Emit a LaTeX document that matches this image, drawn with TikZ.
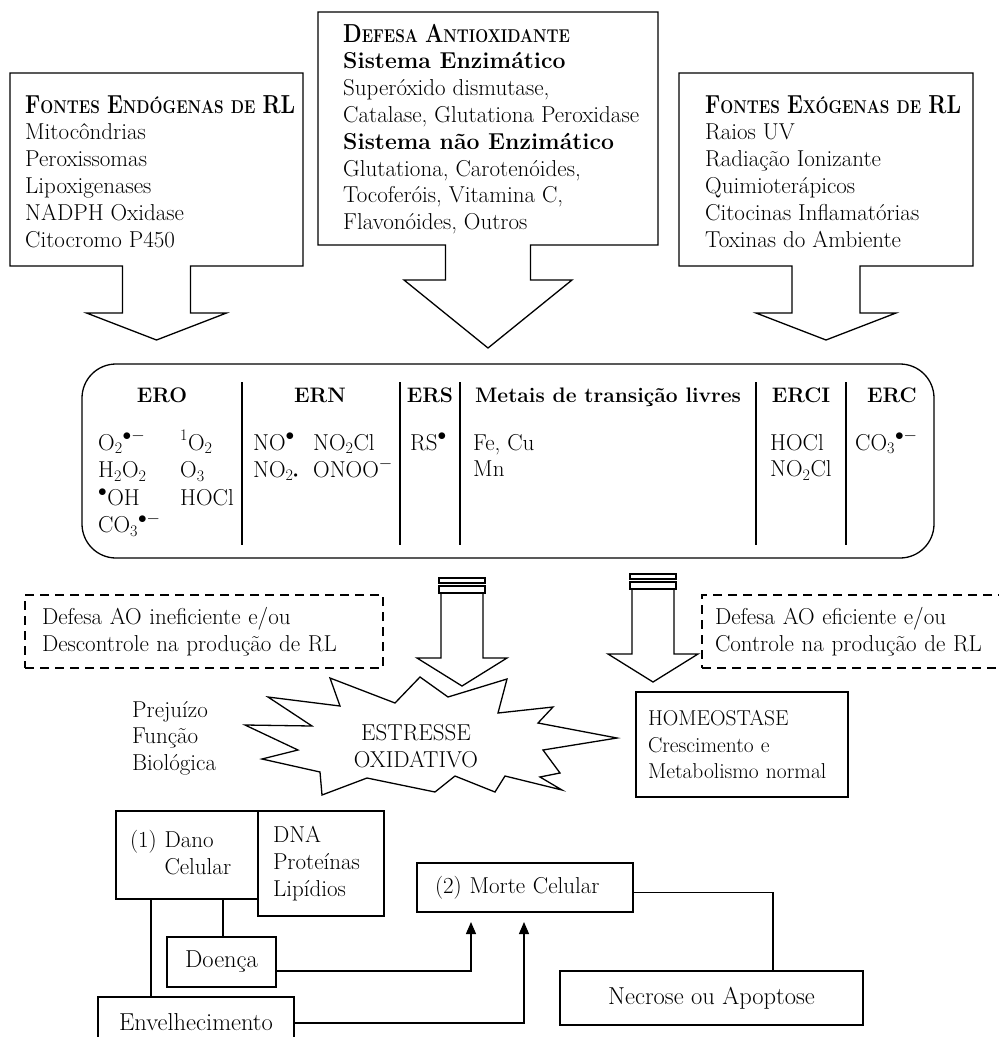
\documentclass[tikz,border=0pt]{standalone}
\usepackage{fontspec}
\usepackage{graphicx}
\usetikzlibrary{calc,arrows.meta}

\newcommand{\bodysize}{\fontsize{23}{26.8}\selectfont}
\newcommand{\headsize}{\fontsize{21}{26.8}\selectfont}
\newcommand{\fbig}[1]{{\fontsize{26}{26}\selectfont #1}}
\newcommand{\fsmall}[1]{{\fontsize{18.5}{18.5}\selectfont #1}}
\newcommand{\fsc}[2]{\fbig{#1}\fsmall{#2}}
\newcommand{\boxtitle}[1]{\scalebox{0.83}[1]{\textbf{#1}}}
\newcommand{\linestack}[1]{\begin{tabular}[t]{@{}l@{}}#1\end{tabular}}
\newcommand{\rad}{\textsuperscript{$\bullet$}}
\newcommand{\radan}{\textsuperscript{$\bullet-$}}
\newcommand{\chsub}[1]{\textsubscript{#1}}

% box with a hollow arrow below it
\newcommand{\callarrow}[5]{%
  \draw[outline] (#1.south west) -- (#1.north west) -- (#1.north east) -- (#1.south east)
    -- ($(#1.south)+(#2,0)$) -- ++(0,#3) -- ++(#4-#2,0) -- ++(-#4,#5) -- ++(-#4,-#5)
    -- ++(#4-#2,0) -- ++(0,-#3) -- cycle;}

% hollow arrow with two bars on top
\newcommand{\barredarrow}[2]{%
  \draw[outline] (#1-23,#2) rectangle (#1+23,#2+5);
  \draw[outline] (#1-23,#2+8) rectangle (#1+23,#2+15);
  \draw[outline] (#1-21,#2+15) -- (#1-21,#2+80) -- (#1-45,#2+80) -- (#1,#2+108)
    -- (#1+45,#2+80) -- (#1+21,#2+80) -- (#1+21,#2+15);}

\begin{document}
\begin{tikzpicture}[x=1pt,y=-1pt,
  outline/.style={line width=1.3pt, line join=miter},
  calloutbox/.style={rectangle, inner sep=0pt, outer sep=0pt},
  bodytext/.style={inner sep=0pt, font=\bodysize},
  headtext/.style={inner sep=0pt, font=\headsize},
  framebox/.style={draw, line width=1.3pt, outer sep=0pt, inner ysep=0pt, font=\bodysize, align=left},
  dashbox/.style={framebox, line width=1.2pt, dash pattern=on 9pt off 6pt},
  link/.style={line width=1.2pt},
  uparrow/.style={link, -{Triangle[length=12pt,width=10pt]}}]

\useasboundingbox (0,0) rectangle (999,1037);

% sources and defence
\node[calloutbox, minimum width=293pt, minimum height=193pt, anchor=north west] (endo) at (10,73) {};
\callarrow{endo}{34}{47}{70}{27}
\node[bodytext, anchor=base west] (endotxt) at ([shift={(15,40)}]endo.north west)
  {\linestack{\boxtitle{\fsc{F}{ONTES} \fsc{E}{NDÓGENAS} \fsmall{DE} \fbig{RL}}\\
   Mitocôndrias\\ Peroxissomas\\ Lipoxigenases\\ NADPH Oxidase\\ Citocromo P450}};

\node[calloutbox, minimum width=340pt, minimum height=233pt, anchor=north west] (defesa) at (318,12) {};
\callarrow{defesa}{42.5}{35}{84}{68}
\node[bodytext, anchor=base west] (defesatxt) at ([shift={(25,30)}]defesa.north west)
  {\linestack{\boxtitle{\fsc{D}{EFESA} \fsc{A}{NTIOXIDANTE}}\\
   \textbf{Sistema Enzimático}\\ Superóxido dismutase,\\ Catalase, Glutationa Peroxidase\\
   \textbf{Sistema não Enzimático}\\ Glutationa, Carotenóides,\\ Tocoferóis, Vitamina C,\\
   Flavonóides, Outros}};

\node[calloutbox, minimum width=294pt, minimum height=193pt, anchor=north west] (exo) at (679,73) {};
\callarrow{exo}{34}{47}{70}{27}
\node[bodytext, anchor=base west] (exotxt) at ([shift={(26,40)}]exo.north west)
  {\linestack{\boxtitle{\fsc{F}{ONTES} \fsc{E}{XÓGENAS} \fsmall{DE} \fbig{RL}}\\
   Raios UV\\ Radiação Ionizante\\ Quimioterápicos\\ Citocinas Inflamatórias\\ Toxinas do Ambiente}};

% reactive species
\node[draw, outline, rounded corners=34pt, outer sep=0pt, minimum width=852pt, minimum height=194pt,
  anchor=north west] (species) at (82,364) {};
\foreach \x in {242,400,460,756,846}
  \draw[line width=1.1pt] (\x,382) -- (\x,545);

\node[headtext, anchor=base] (ero) at (162,402) {\textbf{ERO}};
\node[headtext, anchor=base] (ern) at (320,402) {\textbf{ERN}};
\node[headtext, anchor=base] (ers) at (430,402) {\textbf{ERS}};
\node[headtext, anchor=base] (metais) at (608,402) {\textbf{Metais de transição livres}};
\node[headtext, anchor=base] (erci) at (801,402) {\textbf{ERCI}};
\node[headtext, anchor=base] (erc) at (892,402) {\textbf{ERC}};

\node[bodytext, anchor=base west] (erolist) at (98,450)
  {\renewcommand{\arraystretch}{1.03}\begin{tabular}[t]{@{}p{82pt}@{}l@{}}
   O\chsub{2}\radan & \textsuperscript{1}O\chsub{2}\\
   H\chsub{2}O\chsub{2} & O\chsub{3}\\
   \rad OH & HOCl\\
   CO\chsub{3}\radan &
   \end{tabular}};
\node[bodytext, anchor=base west] (ernlist) at (253,450)
  {\begin{tabular}[t]{@{}p{60pt}@{}l@{}}
   NO\rad & NO\chsub{2}Cl\\
   NO\chsub{2}{\footnotesize$\bullet$} & ONOO\textsuperscript{$-$}
   \end{tabular}};
\node[bodytext, anchor=base west] (erslist) at (410,450) {RS\rad};
\node[bodytext, anchor=base west] (metaislist) at (473,450) {\linestack{Fe, Cu\\ Mn}};
\node[bodytext, anchor=base west] (ercilist) at (770,450) {\linestack{HOCl\\ NO\chsub{2}Cl}};
\node[bodytext, anchor=base west] (erclist) at (855,450) {CO\chsub{3}\radan};

% balance of defence
\barredarrow{462}{578}
\barredarrow{653}{574}
\node[dashbox, anchor=north west, minimum height=73pt, text width=324pt, inner xsep=17pt] (ineff)
  at (25,595) {Defesa AO ineficiente e/ou\\ Descontrole na produção de RL};
\node[dashbox, anchor=north west, minimum height=73pt, text width=300pt, inner xsep=13pt] (eff)
  at (702,595) {Defesa AO eficiente e/ou\\ Controle na produção de RL};

% oxidative stress burst
\draw[outline] (330,678) -- (395,703) -- (420,677) -- (448,697) -- (507,679) -- (498,713)
  -- (553,707) -- (538,723) -- (617,738) -- (543,750) -- (560,773) -- (540,777) -- (562,790)
  -- (505,776) -- (495,792) -- (455,776) -- (435,792) -- (367,778) -- (322,795) -- (320,772)
  -- (262,759) -- (298,750) -- (245,725) -- (312,726) -- (268,697) -- (340,706) -- cycle;
\node[bodytext, align=center] (stresstxt) at (416,746) {ESTRESSE\\ OXIDATIVO};
\node[bodytext, anchor=base west] (impair) at (132,717) {\linestack{Prejuízo\\ Função\\ Biológica}};

\node[framebox, anchor=north west, minimum height=105pt, text width=204pt, inner xsep=4pt,
  font=\fontsize{21.5}{26.8}\selectfont] (homeo)
  at (636,692) {\hspace*{8pt}HOMEOSTASE\\ \hspace*{8pt}Crescimento e\\ \hspace*{8pt}Metabolismo normal};

% consequences
\node[framebox, anchor=north west, minimum height=88pt, text width=114pt, inner xsep=14pt] (dano)
  at (116,811) {(1) Dano\\ \phantom{(1) }Celular};
\node[framebox, anchor=north west, minimum height=105pt, text width=96pt, inner xsep=15pt] (dna)
  at (258,811) {DNA\\ Proteínas\\ Lipídios};
\node[framebox, align=center, anchor=north west, minimum width=109pt, minimum height=50pt,
  font=\fontsize{24.5}{26.8}\selectfont] (doenca) at (167,937) {Doença};
\node[framebox, align=center, anchor=north west, minimum width=196pt, minimum height=50pt,
  font=\fontsize{24.5}{26.8}\selectfont] (envelh) at (98,997) {Envelhecimento};
\node[framebox, anchor=north west, minimum height=49pt, text width=180pt, inner xsep=18pt] (morte)
  at (417,863) {(2) Morte Celular};
\node[framebox, align=center, anchor=north west, minimum width=303pt, minimum height=54pt,
  font=\fontsize{24.5}{26.8}\selectfont] (necrose) at (560,971) {Necrose ou Apoptose};

\draw[link] ([xshift=35pt]dano.south west) -- ([xshift=35pt]dano.south west |- envelh.north);
\draw[link] ([xshift=107pt]dano.south west) -- ([xshift=107pt]dano.south west |- doenca.north);
\draw[uparrow] ([yshift=-9pt]doenca.east) -| ([xshift=54pt,yshift=-10pt]morte.south west);
\draw[uparrow] ([yshift=-26pt]envelh.north east) -| ([xshift=107pt,yshift=-10pt]morte.south west);
\draw[link] ([yshift=-5pt]morte.east) -| ([xshift=213pt]necrose.north west);

\end{tikzpicture}
\end{document}
